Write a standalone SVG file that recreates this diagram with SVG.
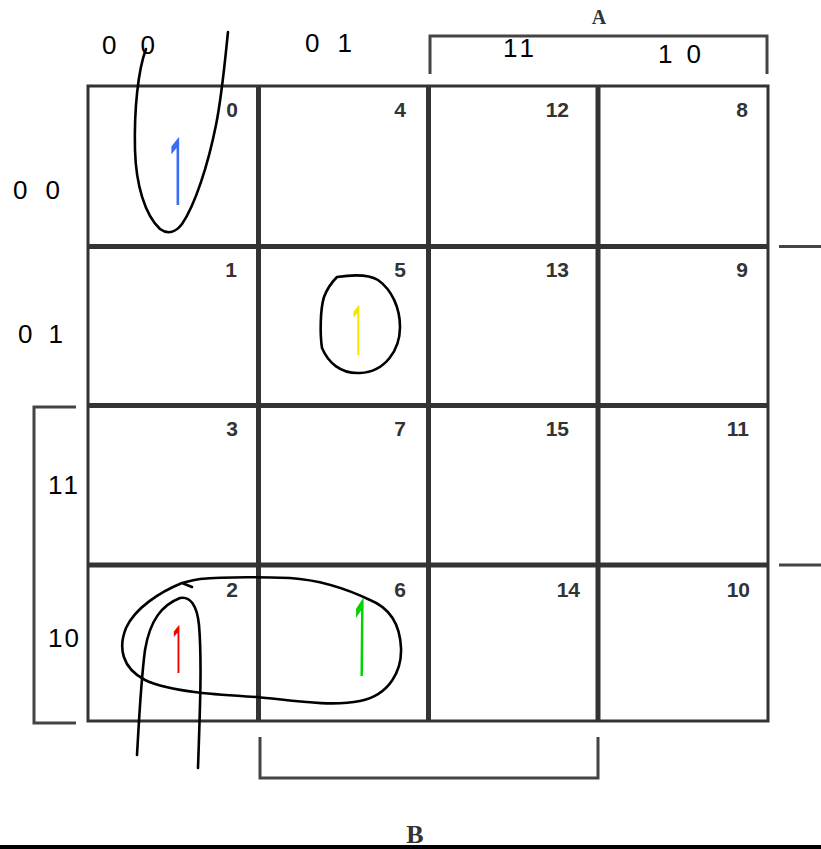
<svg xmlns="http://www.w3.org/2000/svg" width="821" height="849" viewBox="0 0 821 849">
<style>
.grid{stroke:#333;fill:none}
.num{font-family:"Liberation Sans",Arial,sans-serif;font-weight:bold;font-size:21px;fill:#333;text-anchor:end}
.hw{font-family:"Liberation Sans",Arial,sans-serif;font-size:26px;fill:#000}
.ink{fill:none;stroke:#000;stroke-width:2.6;stroke-linecap:round;stroke-linejoin:round}
.one{font-family:Roboto,"Open Sans",sans-serif;text-anchor:middle}
.lbl{font-family:"Liberation Serif","Times New Roman",serif;font-weight:bold;fill:#333;text-anchor:middle}
.br{fill:none;stroke:#444;stroke-width:3}
</style>
<rect width="821" height="849" fill="#fff"/>
<g id="grid">
<rect class="grid" x="88" y="86" width="680" height="635" stroke-width="3"/>
<line class="grid" x1="258.5" y1="86" x2="258.5" y2="721" stroke-width="5"/>
<line class="grid" x1="428.5" y1="86" x2="428.5" y2="721" stroke-width="5"/>
<line class="grid" x1="598" y1="86" x2="598" y2="721" stroke-width="5"/>
<line class="grid" x1="88" y1="246.5" x2="768" y2="246.5" stroke-width="5"/>
<line class="grid" x1="88" y1="405.5" x2="768" y2="405.5" stroke-width="5"/>
<line class="grid" x1="88" y1="565" x2="768" y2="565" stroke-width="5"/>
</g>
<g id="cell-0"><text class="num" x="238" y="117">0</text></g>
<g id="cell-4"><text class="num" x="406" y="117">4</text></g>
<g id="cell-12"><text class="num" x="569" y="117">12</text></g>
<g id="cell-8"><text class="num" x="748" y="117">8</text></g>
<g id="cell-1"><text class="num" x="237" y="277">1</text></g>
<g id="cell-5"><text class="num" x="406" y="277">5</text></g>
<g id="cell-13"><text class="num" x="569" y="277">13</text></g>
<g id="cell-9"><text class="num" x="748" y="277">9</text></g>
<g id="cell-3"><text class="num" x="238" y="436">3</text></g>
<g id="cell-7"><text class="num" x="406" y="436">7</text></g>
<g id="cell-15"><text class="num" x="569" y="436">15</text></g>
<g id="cell-11"><text class="num" x="749" y="436">11</text></g>
<g id="cell-2"><text class="num" x="238" y="597">2</text></g>
<g id="cell-6"><text class="num" x="406" y="597">6</text></g>
<g id="cell-14"><text class="num" x="580" y="597">14</text></g>
<g id="cell-10"><text class="num" x="750" y="597">10</text></g>
<g id="brackets">
<path class="br" d="M430,74 V36 H767 V74"/>
<path class="br" d="M76,407 H34 V723 H76"/>
<path class="br" d="M260,737 V778 H598 V737"/>
<line class="br" x1="779" y1="246.5" x2="821" y2="246.5"/>
<line class="br" x1="779" y1="565" x2="821" y2="565"/>
<text class="lbl" x="599" y="24" font-size="20">A</text>
<text class="lbl" x="415" y="843" font-size="26">B</text>
<rect x="0" y="845" width="821" height="4" fill="#000"/>
</g>
<g id="connectors"></g>
<g id="labels">
<text class="hw" x="102" y="54" letter-spacing="24">00</text>
<text class="hw" x="305" y="52" letter-spacing="18">01</text>
<text class="hw" x="503" y="57" font-size="22" letter-spacing="4">11</text>
<text class="hw" x="658" y="63" letter-spacing="14">10</text>
<text class="hw" x="13" y="199" letter-spacing="18">00</text>
<text class="hw" x="18" y="343" letter-spacing="16">01</text>
<text class="hw" x="48" y="494" font-size="24" letter-spacing="3">11</text>
<text class="hw" x="48" y="647" font-size="24" letter-spacing="2">10</text>
</g>
<g id="groupings">
<path class="ink" d="M146,49 C138,70 134,110 135,150 C136,185 145,215 160,229 C168,235 176,232 182,224 C195,205 208,165 216,125 C222,95 225,60 228,32"/>
<path class="ink" d="M337,277 C350,275 368,274 378,280 C392,290 400,308 400,327 C400,350 385,372 360,373 C340,374 328,362 322,348 C320,335 320,310 324,297 C327,289 332,282 337,277 Z"/>
<path class="ink" d="M192,587 L182,583 C160,592 135,608 126,628 C118,648 122,668 145,680 C170,692 220,695 257,697 C290,700 330,707 360,701 C390,695 402,670 401,648 C400,625 390,608 370,600 C345,588 320,580 290,578 C260,577 220,577 200,579 C192,580 186,582 182,583"/>
<path class="ink" d="M137,755 C139,720 141,680 145,650 C150,620 162,605 180,598 C190,596 197,605 199,625 C202,660 200,710 198,768"/>
<text class="one" transform="translate(177,205) scale(0.3,1)" font-size="95" fill="#3a6cf5">1</text>
<text class="one" transform="translate(358,355) scale(0.3,1)" font-size="70" fill="#f5e600">1</text>
<text class="one" transform="translate(178,673) scale(0.3,1)" font-size="67" fill="#ee0000">1</text>
<text class="one" transform="translate(361,676) scale(0.25,1) skewX(-2)" font-size="109" fill="#00d400">1</text>
</g>
</svg>
